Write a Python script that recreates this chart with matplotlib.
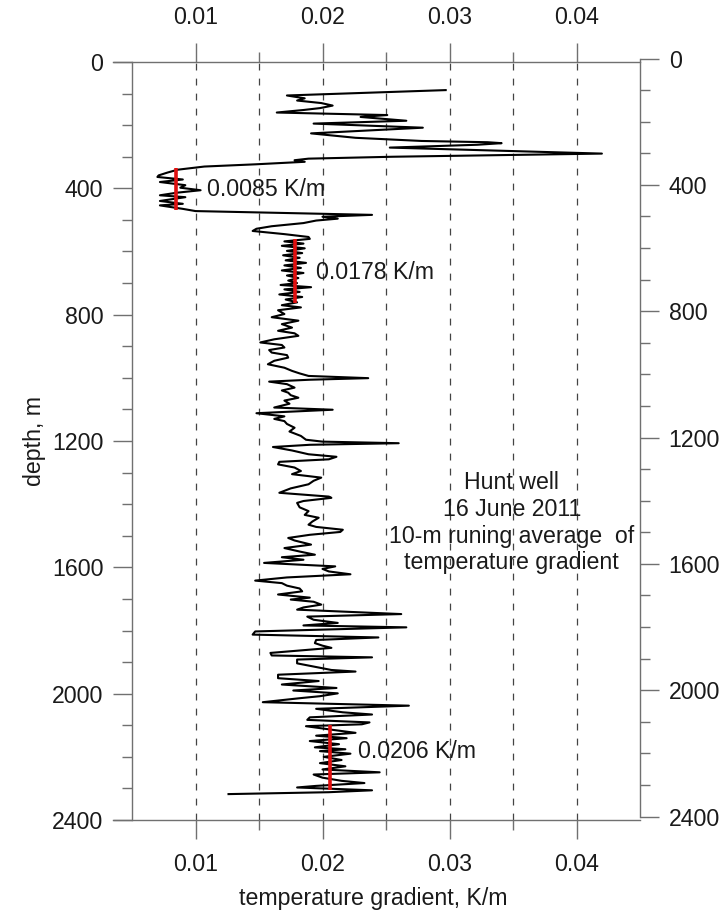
import matplotlib.pyplot as plt
from matplotlib.ticker import FixedLocator, MultipleLocator

# 10-m running average of the temperature gradient
depth_m = [89, 106, 115, 122, 130, 138, 146, 152, 160, 168, 174, 179, 186, 195, 208,
           226, 240, 250, 254, 257, 262, 271, 290, 300, 306, 311, 316, 324, 331, 341,
           350, 359, 364, 372, 380, 390, 398, 406, 414, 422, 428, 440, 449, 454, 465,
           472, 484, 490, 496, 502, 510, 520, 528, 535, 545, 554, 560, 568, 575, 582,
           590, 598, 605, 612, 620, 628, 636, 644, 652, 660, 668, 676, 684, 692, 700,
           706, 713, 720, 728, 736, 744, 752, 761, 770, 777, 786, 798, 808, 819, 830,
           841, 851, 859, 867, 878, 888, 896, 904, 912, 920, 928, 936, 946, 957, 968,
           978, 986, 994, 1001, 1006, 1012, 1020, 1031, 1040, 1047, 1055, 1063, 1072, 1082, 1094,
           1101, 1106, 1112, 1122, 1130, 1137, 1146, 1158, 1170, 1184, 1196, 1202, 1207, 1212, 1219,
           1230, 1242, 1250, 1258, 1266, 1274, 1284, 1295, 1305, 1316, 1326, 1337, 1350, 1364, 1376,
           1380, 1390, 1396, 1410, 1422, 1434, 1443, 1455, 1465, 1472, 1481, 1488, 1497, 1507, 1515,
           1528, 1539, 1550, 1560, 1568, 1576, 1586, 1597, 1605, 1613, 1622, 1632, 1642, 1650, 1658,
           1667, 1676, 1686, 1696, 1702, 1709, 1718, 1727, 1734, 1748, 1756, 1766, 1776, 1784, 1790,
           1803, 1813, 1822, 1830, 1840, 1848, 1855, 1864, 1871, 1879, 1885, 1892, 1904, 1914, 1925,
           1930, 1940, 1951, 1960, 1971, 1982, 1990, 1999, 2008, 2014, 2027, 2038, 2048, 2059, 2066,
           2075, 2083, 2091, 2097, 2103, 2114, 2124, 2133, 2141, 2150, 2160, 2170, 2176, 2182, 2190,
           2200, 2210, 2220, 2230, 2240, 2249, 2256, 2266, 2276, 2283, 2292, 2297, 2306, 2312, 2318]

grad = [0.0297, 0.0172, 0.0186, 0.0180, 0.0199, 0.0208, 0.0198, 0.0185, 0.0164, 0.0251, 0.0230, 0.0245, 0.0266, 0.0193, 0.0279,
        0.0191, 0.0226, 0.0278, 0.0330, 0.0341, 0.0322, 0.0253, 0.0420, 0.0255, 0.0189, 0.0178, 0.0186, 0.0147, 0.0107, 0.0086,
        0.0078, 0.0071, 0.0070, 0.0090, 0.0072, 0.0092, 0.0088, 0.0104, 0.0085, 0.0072, 0.0092, 0.0072, 0.0090, 0.0072, 0.0090,
        0.0100, 0.0239, 0.0200, 0.0212, 0.0195, 0.0185, 0.0160, 0.0148, 0.0145, 0.0170, 0.0189, 0.0190, 0.0170, 0.0185, 0.0168,
        0.0186, 0.0172, 0.0184, 0.0169, 0.0182, 0.0171, 0.0187, 0.0170, 0.0183, 0.0168, 0.0185, 0.0172, 0.0181, 0.0173, 0.0180,
        0.0167, 0.0191, 0.0170, 0.0182, 0.0166, 0.0184, 0.0171, 0.0180, 0.0168, 0.0183, 0.0165, 0.0170, 0.0160, 0.0181, 0.0168,
        0.0176, 0.0165, 0.0178, 0.0181, 0.0162, 0.0151, 0.0168, 0.0170, 0.0158, 0.0160, 0.0172, 0.0173, 0.0162, 0.0157, 0.0170,
        0.0176, 0.0182, 0.0189, 0.0236, 0.0190, 0.0158, 0.0172, 0.0178, 0.0168, 0.0173, 0.0175, 0.0181, 0.0170, 0.0174, 0.0162,
        0.0208, 0.0180, 0.0148, 0.0170, 0.0162, 0.0170, 0.0172, 0.0178, 0.0174, 0.0183, 0.0187, 0.0200, 0.0260, 0.0190, 0.0161,
        0.0176, 0.0189, 0.0211, 0.0205, 0.0166, 0.0165, 0.0178, 0.0183, 0.0176, 0.0199, 0.0193, 0.0189, 0.0175, 0.0166, 0.0205,
        0.0207, 0.0185, 0.0180, 0.0182, 0.0189, 0.0186, 0.0197, 0.0192, 0.0189, 0.0195, 0.0216, 0.0214, 0.0190, 0.0173, 0.0178,
        0.0191, 0.0170, 0.0182, 0.0194, 0.0168, 0.0185, 0.0154, 0.0210, 0.0200, 0.0205, 0.0222, 0.0172, 0.0147, 0.0168, 0.0172,
        0.0182, 0.0184, 0.0165, 0.0190, 0.0175, 0.0193, 0.0199, 0.0185, 0.0180, 0.0262, 0.0188, 0.0193, 0.0212, 0.0185, 0.0266,
        0.0147, 0.0145, 0.0244, 0.0195, 0.0194, 0.0200, 0.0207, 0.0180, 0.0159, 0.0160, 0.0239, 0.0180, 0.0180, 0.0193, 0.0207,
        0.0226, 0.0165, 0.0165, 0.0197, 0.0168, 0.0211, 0.0177, 0.0212, 0.0198, 0.0183, 0.0153, 0.0268, 0.0195, 0.0216, 0.0239,
        0.0190, 0.0188, 0.0237, 0.0231, 0.0187, 0.0207, 0.0226, 0.0195, 0.0219, 0.0190, 0.0213, 0.0194, 0.0218, 0.0198, 0.0222,
        0.0201, 0.0215, 0.0198, 0.0218, 0.0200, 0.0245, 0.0193, 0.0200, 0.0215, 0.0233, 0.0195, 0.0180, 0.0239, 0.0205, 0.0126]

# interval averages (red bars) and their labels
avg_grad = [0.0085, 0.0178, 0.0206]
avg_top = [335, 560, 2100]
avg_bottom = [470, 763, 2305]
avg_labels = ['0.0085 K/m', '0.0178 K/m', '0.0206 K/m']
label_x = [0.0109, 0.0195, 0.0228]
label_depth = [405, 668, 2183]

note = 'Hunt well\n16 June 2011\n10-m runing average  of\ntemperature gradient'

x_major = [0.01, 0.02, 0.03, 0.04]
x_minor = [0.015, 0.025, 0.035]

plt.rcParams['font.family'] = ['Liberation Sans', 'DejaVu Sans']
plt.rcParams['font.size'] = 16.7
plt.rcParams['text.color'] = '#1a1a1a'
plt.rcParams['axes.labelcolor'] = '#1a1a1a'
plt.rcParams['xtick.labelcolor'] = '#1a1a1a'
plt.rcParams['ytick.labelcolor'] = '#1a1a1a'

axc = '#707070'
W, H = 723, 913

fig = plt.figure(figsize=(W / 100, H / 100), dpi=100)
ax = fig.add_axes([132 / W, 1 - 820 / H, 508 / W, 758 / H])

ax.set_xlim(0.005, 0.045)
ax.set_ylim(2400, 0)

ax.xaxis.set_major_locator(FixedLocator(x_major))
ax.xaxis.set_minor_locator(FixedLocator(x_minor))
ax.set_xticklabels(['%.2f' % v for v in x_major])
ax.yaxis.set_major_locator(MultipleLocator(400))
ax.yaxis.set_minor_locator(MultipleLocator(100))

ax.grid(axis='x', which='both', linestyle=(0, (5.5, 6.5)), color='#444444', lw=0.9)

ax.tick_params(axis='x', which='both', top=True, labeltop=True, bottom=True,
               labelbottom=True, direction='out', color=axc, width=1.0, pad=10)
ax.tick_params(axis='x', which='major', length=13.7)
ax.tick_params(axis='x', which='minor', length=7.2)
ax.tick_params(axis='y', which='both', direction='out', color=axc, width=1.0, pad=7)
ax.tick_params(axis='y', which='major', length=13.7)
ax.tick_params(axis='y', which='minor', length=7.2)

for s in ['top', 'bottom', 'left']:
    ax.spines[s].set_color(axc)
    ax.spines[s].set_linewidth(1.0)
ax.spines['right'].set_visible(False)
ax.spines['top'].set_bounds(0.0035, 0.045)
ax.spines['bottom'].set_bounds(0.0035, 0.045)

ax.plot(grad, depth_m, color='black', lw=1.5, zorder=3)
ax.vlines(avg_grad, avg_top, avg_bottom, color='#e01010', lw=2.6, zorder=4)

for x, d, t in zip(label_x, label_depth, avg_labels):
    ax.text(x, d, t, ha='left', va='center')

ax.text(0.0349, 1459, note, ha='center', va='center', linespacing=1.2)

ax.set_xlabel('temperature gradient, K/m')
ax.xaxis.set_label_coords(0.474, -0.088)
ax.set_ylabel('depth, m')
ax.yaxis.set_label_coords(-0.17, 0.5)

# right depth axis, drawn a few pixels higher as in the original
ax2 = fig.add_axes([132 / W, 1 - 816.5 / H, 508 / W, 758 / H])
ax2.patch.set_visible(False)
ax2.set_xlim(0.005, 0.045)
ax2.set_ylim(2400, 0)
ax2.xaxis.set_visible(False)
for s in ['top', 'bottom', 'left']:
    ax2.spines[s].set_visible(False)
ax2.spines['right'].set_color(axc)
ax2.spines['right'].set_linewidth(1.0)
ax2.yaxis.tick_right()
ax2.yaxis.set_major_locator(MultipleLocator(400))
ax2.yaxis.set_minor_locator(MultipleLocator(100))
ax2.tick_params(axis='y', which='both', direction='out', color=axc, width=1.0, pad=7)
ax2.tick_params(axis='y', which='major', length=13.7)
ax2.tick_params(axis='y', which='minor', length=7.2)

fig.savefig('out.png', dpi=100)
